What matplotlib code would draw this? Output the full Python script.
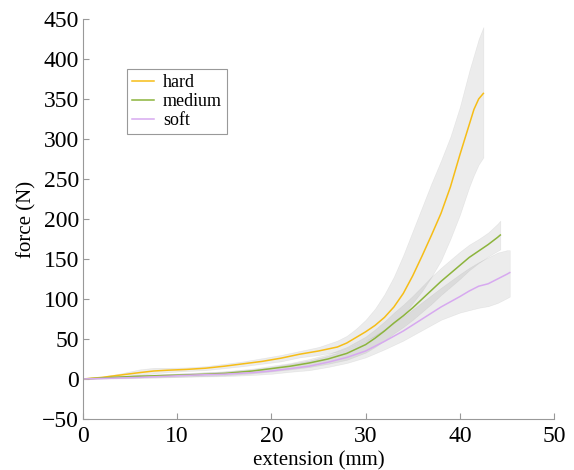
import numpy as np
import matplotlib
matplotlib.use("Agg")
import matplotlib.pyplot as plt

plt.rcParams['font.family'] = ['Liberation Serif', 'DejaVu Serif']

# mean force curves with the spread between samples
hard_x = [0, 2, 4, 6, 7.5, 9, 11, 13, 15, 17, 19, 21, 23, 25, 27, 28, 29, 30, 31, 32,
          33, 34, 35, 36, 37, 38, 39, 40, 41, 41.5, 42, 42.5]
hard_mean = [0, 2, 5, 8, 10, 11, 12, 13.5, 16, 19, 22, 26, 31, 35, 40, 45, 52, 59, 67, 77,
             90, 107, 129, 154, 180, 207, 240, 280, 318, 337, 350, 357]
hard_hi = [0, 3, 7, 12, 14, 14, 14.5, 16, 19, 22, 26, 30, 35, 40, 48, 54, 63, 74, 88, 106,
           128, 155, 185, 215, 245, 273, 303, 340, 385, 405, 425, 440]
hard_lo = [0, 1, 3, 5, 7, 8.5, 10, 11, 13.5, 16, 19, 22, 27, 30, 34, 38, 43, 48, 54, 62,
           70, 80, 95, 110, 128, 148, 175, 205, 240, 255, 268, 277]

med_x = [0, 3, 6, 9, 12, 15, 18, 20, 22, 24, 26, 28, 30, 31, 32, 33, 34, 35, 36, 37, 38,
         39, 40, 41, 42, 43, 44, 44.3]
med_mean = [0, 2, 3.5, 4.5, 5.5, 7, 10, 13, 16, 20, 25, 32, 43, 51, 60, 70, 79, 89, 100,
            111, 122, 132, 142, 152, 160, 168, 177, 180]
med_spread = [0, 1, 1.5, 2, 2, 2.5, 3, 3.5, 4, 5, 6, 8, 10, 11, 12, 13, 14, 15, 16, 17,
              17, 17, 17, 16, 15, 15, 17, 18]

soft_x = [0, 3, 6, 9, 12, 15, 18, 20, 22, 24, 26, 28, 30, 32, 34, 36, 38, 40, 41, 42, 43,
          44, 45, 45.3]
soft_mean = [0, 1, 2, 3.5, 5, 6, 8, 10, 13, 16, 21, 27, 35, 47, 60, 75, 90, 103, 110, 116,
             119, 125, 131, 133]
soft_up = [0, 1, 2, 2.5, 3, 3.5, 4, 5, 6, 7, 8, 10, 12, 15, 18, 21, 24, 28, 29, 30, 33,
           33, 30, 28]
soft_down = [0, 0.5, 1, 1.5, 2, 2.5, 3, 3.5, 4, 5, 6, 7, 8, 10, 12, 14, 16, 20, 24, 27,
             28, 30, 30, 30]

fig = plt.figure(figsize=(5.74, 4.7), dpi=100)
ax = fig.add_axes([0.1446, 0.1085, 0.8206, 0.8511])

band = dict(color='0.5', alpha=0.15, edgecolor='0.55', linewidth=0.4)
ax.fill_between(hard_x, hard_lo, hard_hi, **band)
mm = np.array(med_mean)
ms = np.array(med_spread)
ax.fill_between(med_x, mm - ms, mm + ms, **band)
sm = np.array(soft_mean)
ax.fill_between(soft_x, sm - np.array(soft_down), sm + np.array(soft_up), **band)

ax.plot(hard_x, hard_mean, color='#F6BD16', lw=1.1, label='hard')
ax.plot(med_x, med_mean, color='#8CB43C', lw=1.1, label='medium')
ax.plot(soft_x, soft_mean, color='#D7A9F0', lw=1.1, label='soft')

ax.set_xlim(0, 50)
ax.set_ylim(-50, 450)
ax.set_xticks(range(0, 51, 10))
ax.set_yticks(range(-50, 451, 50))
ax.set_xlabel('extension (mm)', fontsize=15, labelpad=3)
ax.set_ylabel('force (N)', fontsize=15, labelpad=4)

for s in ['top', 'right']:
    ax.spines[s].set_visible(False)
for s in ['left', 'bottom']:
    ax.spines[s].set_color('0.6')
    ax.spines[s].set_linewidth(0.8)
ax.tick_params(direction='in', length=4, color='0.6', labelsize=17, pad=5)
ax.tick_params(axis='y', pad=3)

leg = ax.legend(loc='upper left', bbox_to_anchor=(0.093, 0.875), fontsize=13,
                fancybox=False, edgecolor='0.6', framealpha=1, handlelength=1.2,
                handletextpad=0.5, borderpad=0.3, labelspacing=0.1,
                borderaxespad=0)
leg.get_frame().set_linewidth(0.8)

fig.savefig('out.png', dpi=100)
